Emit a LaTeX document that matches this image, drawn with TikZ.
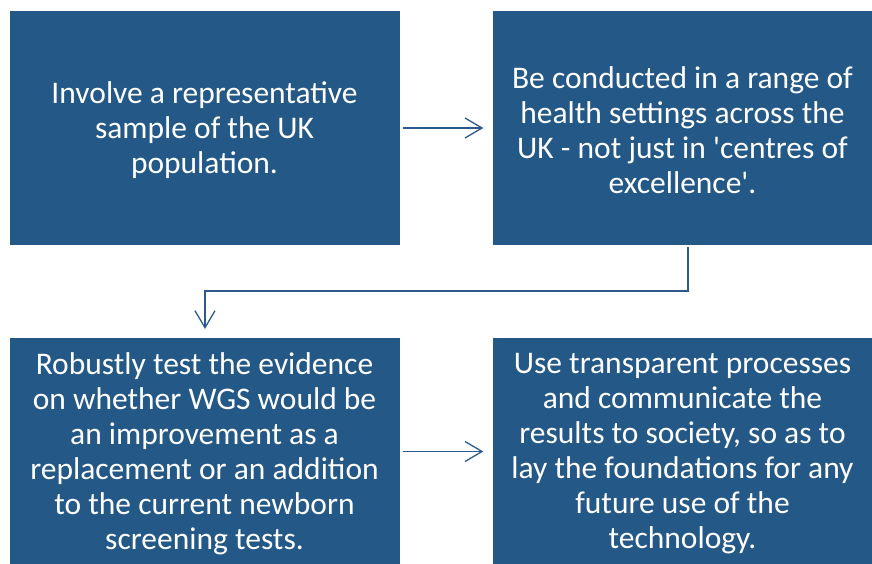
\documentclass[tikz,border=0pt]{standalone}
\usepackage{fontspec}
\setmainfont{Carlito}
\usetikzlibrary{arrows.meta}
\definecolor{boxblue}{RGB}{36,88,134}
\definecolor{lineblue}{RGB}{44,90,140}
\tikzset{
  card/.style={fill=boxblue, draw=none, inner sep=0pt},
  cardtext/.style={text=white, align=center,
    font=\fontsize{31.5}{35}\selectfont, inner sep=0pt},
  link/.style={draw=lineblue, line width=1.3pt,
    -{Straight Barb[length=17pt,width=20pt,line width=1.3pt]}}
}
\begin{document}
\begin{tikzpicture}[x=1pt,y=-1pt]
\useasboundingbox (0,0) rectangle (872,564);
\node[card, minimum width=390pt, minimum height=233pt] (a) at (204.5,128) {};
\node[card, minimum width=380pt, minimum height=233pt] (b) at (682.5,128) {};
\node[card, minimum width=390pt, minimum height=227pt] (c) at (204.5,451.5) {};
\node[card, minimum width=380pt, minimum height=227pt] (d) at (682.5,451.5) {};
\node[cardtext] (at) at ([yshift=-2pt]a.center) {Involve a representative\\sample of the UK\\population.};
\node[cardtext] (bt) at ([yshift=-2pt]b.center) {Be conducted in a range of\\health settings across the\\UK - not just in \textquotesingle centres of\\excellence\textquotesingle.};
\node[cardtext] (ct) at ([yshift=-2.5pt]c.center) {Robustly test the evidence\\on whether WGS would be\\an improvement as a\\replacement or an addition\\to the current newborn\\screening tests.};
\node[cardtext] (dt) at ([yshift=-2.5pt]d.center) {Use transparent processes\\and communicate the\\results to society, so as to\\lay the foundations for any\\future use of the\\technology.};
\coordinate (bend1) at (688,291);
\coordinate (bend2) at (205,291);
\coordinate (s1) at (688,247);
\coordinate (t1) at (205,329);
\draw[link] ([xshift=3pt]a.east) -- ([xshift=-9pt]b.west);
\draw[link] (s1) -- (bend1) -- (bend2) -- (t1);
\draw[link] ([xshift=3pt]c.east) -- ([xshift=-9pt]d.west);
\end{tikzpicture}
\end{document}
